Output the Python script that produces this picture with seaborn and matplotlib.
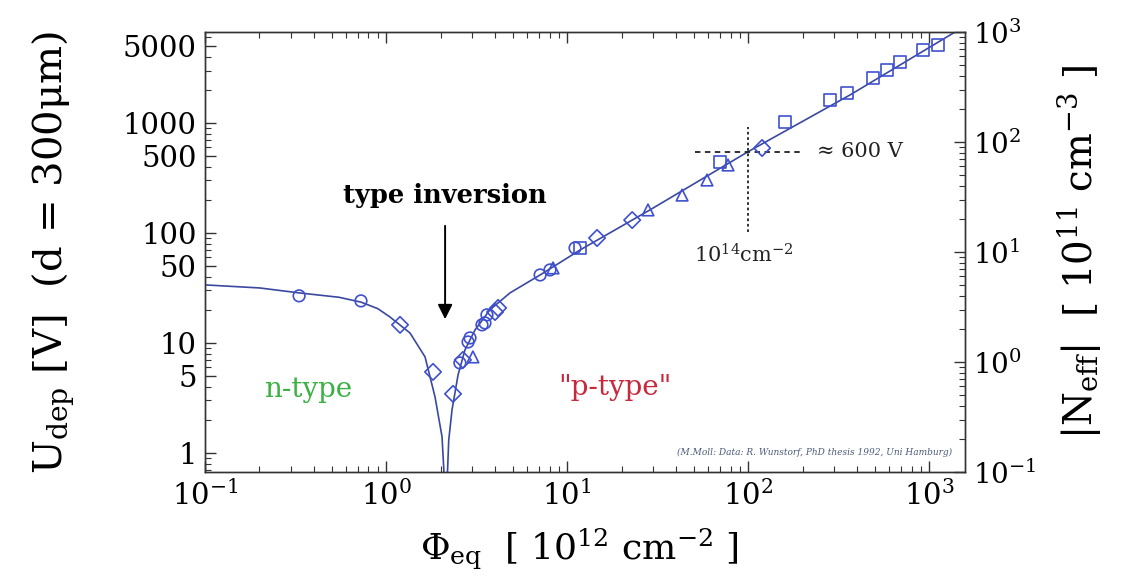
import numpy as np
import pandas as pd
import seaborn as sns
import matplotlib.pyplot as plt
from matplotlib.ticker import FixedLocator, FixedFormatter, LogLocator, LogFormatterMathtext, NullFormatter

# fitted curve (fluence in 1e12 cm^-2, U_dep in V)
curve_phi = [0.1, 0.201, 0.331, 0.55, 0.727, 0.9, 1.052, 1.357, 1.643, 1.865, 2.039, 2.145,
             2.22, 2.315, 2.50, 2.73, 3.10, 3.75, 4.84, 7.10, 11.8, 28.7, 100, 366, 1392, 1700]
curve_u = [33.7, 31.6, 28.5, 26.0, 23.5, 20.5, 17.2, 12.3, 7.46, 3.23, 1.40, 0.3,
           1.3, 2.46, 5.12, 8.63, 13.1, 20.0, 28.5, 41.5, 70, 162, 548, 1800, 6720, 8300]

# measured points, by marker type
circ_phi = [0.331, 0.727, 2.56, 2.84, 2.91, 3.39, 3.52, 3.61, 7.10, 8.05, 11.07]
circ_u = [26.8, 24.1, 6.58, 10.2, 11.1, 14.6, 15.2, 18.0, 41.5, 46.1, 73]
diam_phi = [1.195, 1.818, 2.345, 2.66, 4.00, 4.16, 14.65, 22.9, 119.5]
diam_u = [14.6, 5.45, 3.44, 7.0, 19.1, 20.8, 90, 131, 592]
tri_phi = [3.02, 8.37, 28.0, 43.2, 59.3, 77.5]
tri_u = [7.46, 48.1, 162, 221, 303, 415]
sq_phi = [11.8, 70.0, 160, 284, 352, 490, 586, 692, 927, 1121]
sq_u = [73, 442, 1021, 1620, 1874, 2565, 3034, 3585, 4610, 5117]

left_ticks = [1, 5, 10, 50, 100, 500, 1000, 5000]
left_labels = ['1', '5', '10', '50', '100', '500', '1000', '5000']

df = pd.concat([
    pd.DataFrame({'phi': circ_phi, 'u': circ_u, 'kind': 'circle'}),
    pd.DataFrame({'phi': diam_phi, 'u': diam_u, 'kind': 'diamond'}),
    pd.DataFrame({'phi': tri_phi, 'u': tri_u, 'kind': 'triangle'}),
    pd.DataFrame({'phi': sq_phi, 'u': sq_u, 'kind': 'square'}),
], ignore_index=True)

sns.set_style("ticks")
plt.rcParams['font.family'] = ['DejaVu Serif']
plt.rcParams['mathtext.fontset'] = 'dejavuserif'
plt.rcParams['text.color'] = 'black'
plt.rcParams['axes.labelcolor'] = 'black'

blue = '#3f50cf'
fig = plt.figure(figsize=(11.27, 5.82), dpi=100)
ax = fig.add_axes([0.1819, 0.189, 0.6744, 0.756])
ax.set_xscale('log')
ax.set_yscale('log')

sns.lineplot(x=curve_phi, y=curve_u, ax=ax, sort=False, estimator=None,
             color='#3a48a0', lw=1.2)
sns.scatterplot(data=df, x='phi', y='u', style='kind', ax=ax, legend=False,
                markers={'circle': 'o', 'diamond': 'D', 'triangle': '^', 'square': 's'},
                s=70, facecolor='none', edgecolor=blue, linewidth=1.2, zorder=3)

ax.set_xlim(0.1, 1580)
ax.set_ylim(0.67, 6720)

# crosshair at 10^14 cm^-2
ax.plot([51, 201], [548, 548], ls=(0, (3, 2.5)), color='#222222', lw=1.3)
ax.plot([100, 100], [102, 920], ls=(0, (1.5, 1.5)), color='#222222', lw=1.3)
ax.text(240, 548, '\u2248 600 V', fontsize=15, va='center', ha='left', color='#222222')
ax.text(50.3, 63, '10$^{14}$cm$^{-2}$', fontsize=15, va='center', ha='left', color='#222222')

ax.text(2.12, 221, 'type inversion', fontsize=18.5, fontweight='bold', ha='center', va='center')
ax.annotate('', xy=(2.12, 15.5), xytext=(2.12, 123),
            arrowprops=dict(arrowstyle='-|>', color='black', lw=1.4, mutation_scale=22))
ax.text(0.371, 3.74, 'n-type', fontsize=20, color='#3cb043', ha='center', va='center')
ax.text(18.4, 3.9, '"p-type"', fontsize=20, color='#c8283c', ha='center', va='center')
ax.text(0.983, 0.045, '(M.Moll: Data: R. Wunstorf, PhD thesis 1992, Uni Hamburg)',
        transform=ax.transAxes, fontsize=6.5, style='italic', color='#4a5a7a', ha='right', va='center')

ax.xaxis.set_major_locator(LogLocator(base=10, numticks=10))
ax.xaxis.set_major_formatter(LogFormatterMathtext())
ax.xaxis.set_minor_locator(LogLocator(base=10, subs=np.arange(2, 10), numticks=20))
ax.xaxis.set_minor_formatter(NullFormatter())
ax.yaxis.set_major_locator(FixedLocator(left_ticks))
ax.yaxis.set_major_formatter(FixedFormatter(left_labels))
ax.yaxis.set_minor_locator(LogLocator(base=10, subs=np.arange(2, 10), numticks=20))
ax.yaxis.set_minor_formatter(NullFormatter())

ax2 = ax.twinx()
ax2.set_yscale('log')
ax2.set_ylim(0.1, 1000)
ax2.yaxis.set_major_locator(LogLocator(base=10, numticks=10))
ax2.yaxis.set_major_formatter(LogFormatterMathtext())
ax2.yaxis.set_minor_locator(LogLocator(base=10, subs=np.arange(2, 10), numticks=20))
ax2.yaxis.set_minor_formatter(NullFormatter())

ax.tick_params(which='both', direction='in', top=True, right=False, colors='#333333', labelcolor='black')
ax.tick_params(which='major', length=8, width=1, labelsize=21, pad=6)
ax.tick_params(which='minor', length=4, width=0.8)
ax2.tick_params(which='both', direction='in', colors='#333333', labelcolor='black')
ax2.tick_params(which='major', length=8, width=1, labelsize=20, pad=6)
ax2.tick_params(which='minor', length=4, width=0.8)
for a in (ax, ax2):
    for sp in a.spines.values():
        sp.set_color('#333333')
        sp.set_linewidth(1)

ax.set_ylabel('U$_{\\mathrm{dep}}$ [V]  (d = 300\u03bcm)', fontsize=29)
ax.yaxis.set_label_coords(-0.168, 0.5)
ax.set_xlabel('$\\Phi_{\\mathrm{eq}}$  [ 10$^{12}$ cm$^{-2}$ ]', fontsize=26)
ax.xaxis.set_label_coords(0.493, -0.122)
ax2.set_ylabel('|N$_{\\mathrm{eff}}$|  [ 10$^{11}$ cm$^{-3}$ ]', fontsize=28, rotation=90)
ax2.yaxis.set_label_coords(1.118, 0.5)

plt.savefig('out.png', dpi=100)
